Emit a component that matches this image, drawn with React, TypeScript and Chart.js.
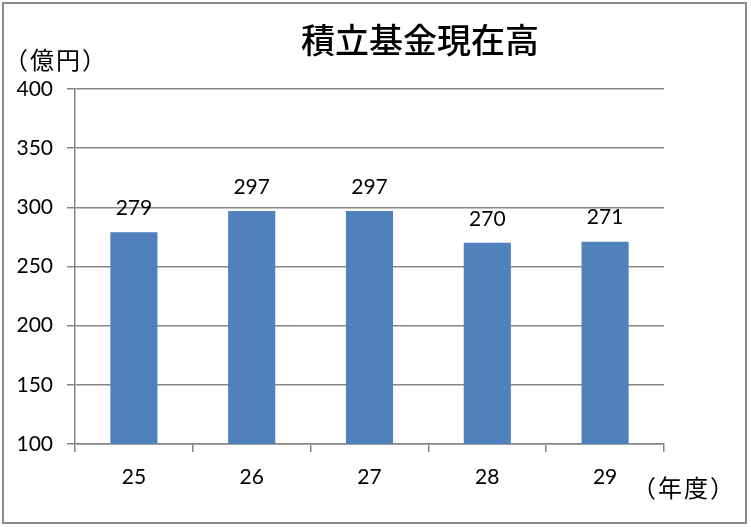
import React, { useEffect, useRef } from "react";
import { Chart, registerables } from "chart.js";

Chart.register(...registerables);

const categories = ["25", "26", "27", "28", "29"];
const values = [279, 297, 297, 270, 271];
const yTicks = [100, 150, 200, 250, 300, 350, 400];
const titleText = "積立基金現在高";
const yUnit = "（億円）";
const xUnit = "（年度）";

const GRID = "#868686";
const BAR = "#4F81BD";
const NUM_FONT = "Lato, 'Open Sans', sans-serif";
const CJK_FONT = "'Noto Sans CJK JP', sans-serif";

export default function App() {
  const ref = useRef<HTMLCanvasElement | null>(null);

  useEffect(() => {
    if (!ref.current) return;
    const textPlugin = {
      id: "texts",
      afterDatasetsDraw(chart: any) {
        const ctx = chart.ctx;
        ctx.save();
        ctx.fillStyle = "#000";
        ctx.textAlign = "center";
        ctx.textBaseline = "middle";
        ctx.font = `500 34px ${CJK_FONT}`;
        ctx.fillText(titleText, 420, 40);
        ctx.font = `24px ${CJK_FONT}`;
        ctx.textAlign = "left";
        (ctx as any).letterSpacing = "2px";
        ctx.fillText(yUnit, 4, 60);
        ctx.fillText(xUnit, 632, 488);
        (ctx as any).letterSpacing = "0px";
        ctx.textAlign = "center";
        ctx.font = `21px ${NUM_FONT}`;
        const meta = chart.getDatasetMeta(0);
        meta.data.forEach((bar: any, i: number) => {
          ctx.fillText(String(values[i]), bar.x, bar.y - 24);
        });
        ctx.restore();
      },
    };
    const chart = new Chart(ref.current, {
      type: "bar",
      data: {
        labels: categories,
        datasets: [
          {
            data: values,
            backgroundColor: BAR,
            barPercentage: 0.4,
            categoryPercentage: 1,
          },
        ],
      },
      options: {
        animation: false,
        responsive: false,
        maintainAspectRatio: false,
        layout: { padding: { left: 0, right: 87, top: 89, bottom: 0 } },
        plugins: {
          legend: { display: false },
          tooltip: { enabled: false },
          title: { display: false },
        },
        scales: {
          x: {
            afterFit(scale: any) {
              scale.height = 83;
            },
            grid: {
              display: true,
              offset: true,
              drawOnChartArea: false,
              drawTicks: true,
              tickLength: 8,
              color: GRID,
              lineWidth: 1.5,
            },
            border: { display: true, color: GRID, width: 1.5 },
            ticks: {
              color: "#000",
              font: { family: NUM_FONT, size: 21 },
              padding: 13,
            },
          },
          y: {
            min: 100,
            max: 400,
            afterFit(scale: any) {
              scale.width = 75;
            },
            afterBuildTicks(scale: any) {
              scale.ticks = yTicks.map((v) => ({ value: v }));
            },
            grid: {
              color: GRID,
              lineWidth: 1.5,
              drawTicks: true,
              tickLength: 8,
            },
            border: { display: true, color: GRID, width: 1.5 },
            ticks: {
              color: "#000",
              font: { family: NUM_FONT, size: 21 },
              padding: 14,
              stepSize: 50,
            },
          },
        },
      },
      plugins: [textPlugin],
    });
    return () => chart.destroy();
  }, []);

  return (
    <div
      style={{
        position: "absolute",
        left: 0,
        top: 0,
        width: 751,
        height: 527,
        background: "#fff",
      }}
    >
      <canvas
        ref={ref}
        width={751}
        height={527}
        style={{ position: "absolute", left: 0, top: 0, width: 751, height: 527 }}
      />
      <div
        style={{
          position: "absolute",
          left: 2,
          top: 2,
          width: 741,
          height: 518,
          border: "2px solid #8c8c8c",
          boxSizing: "content-box",
          pointerEvents: "none",
        }}
      />
    </div>
  );
}
